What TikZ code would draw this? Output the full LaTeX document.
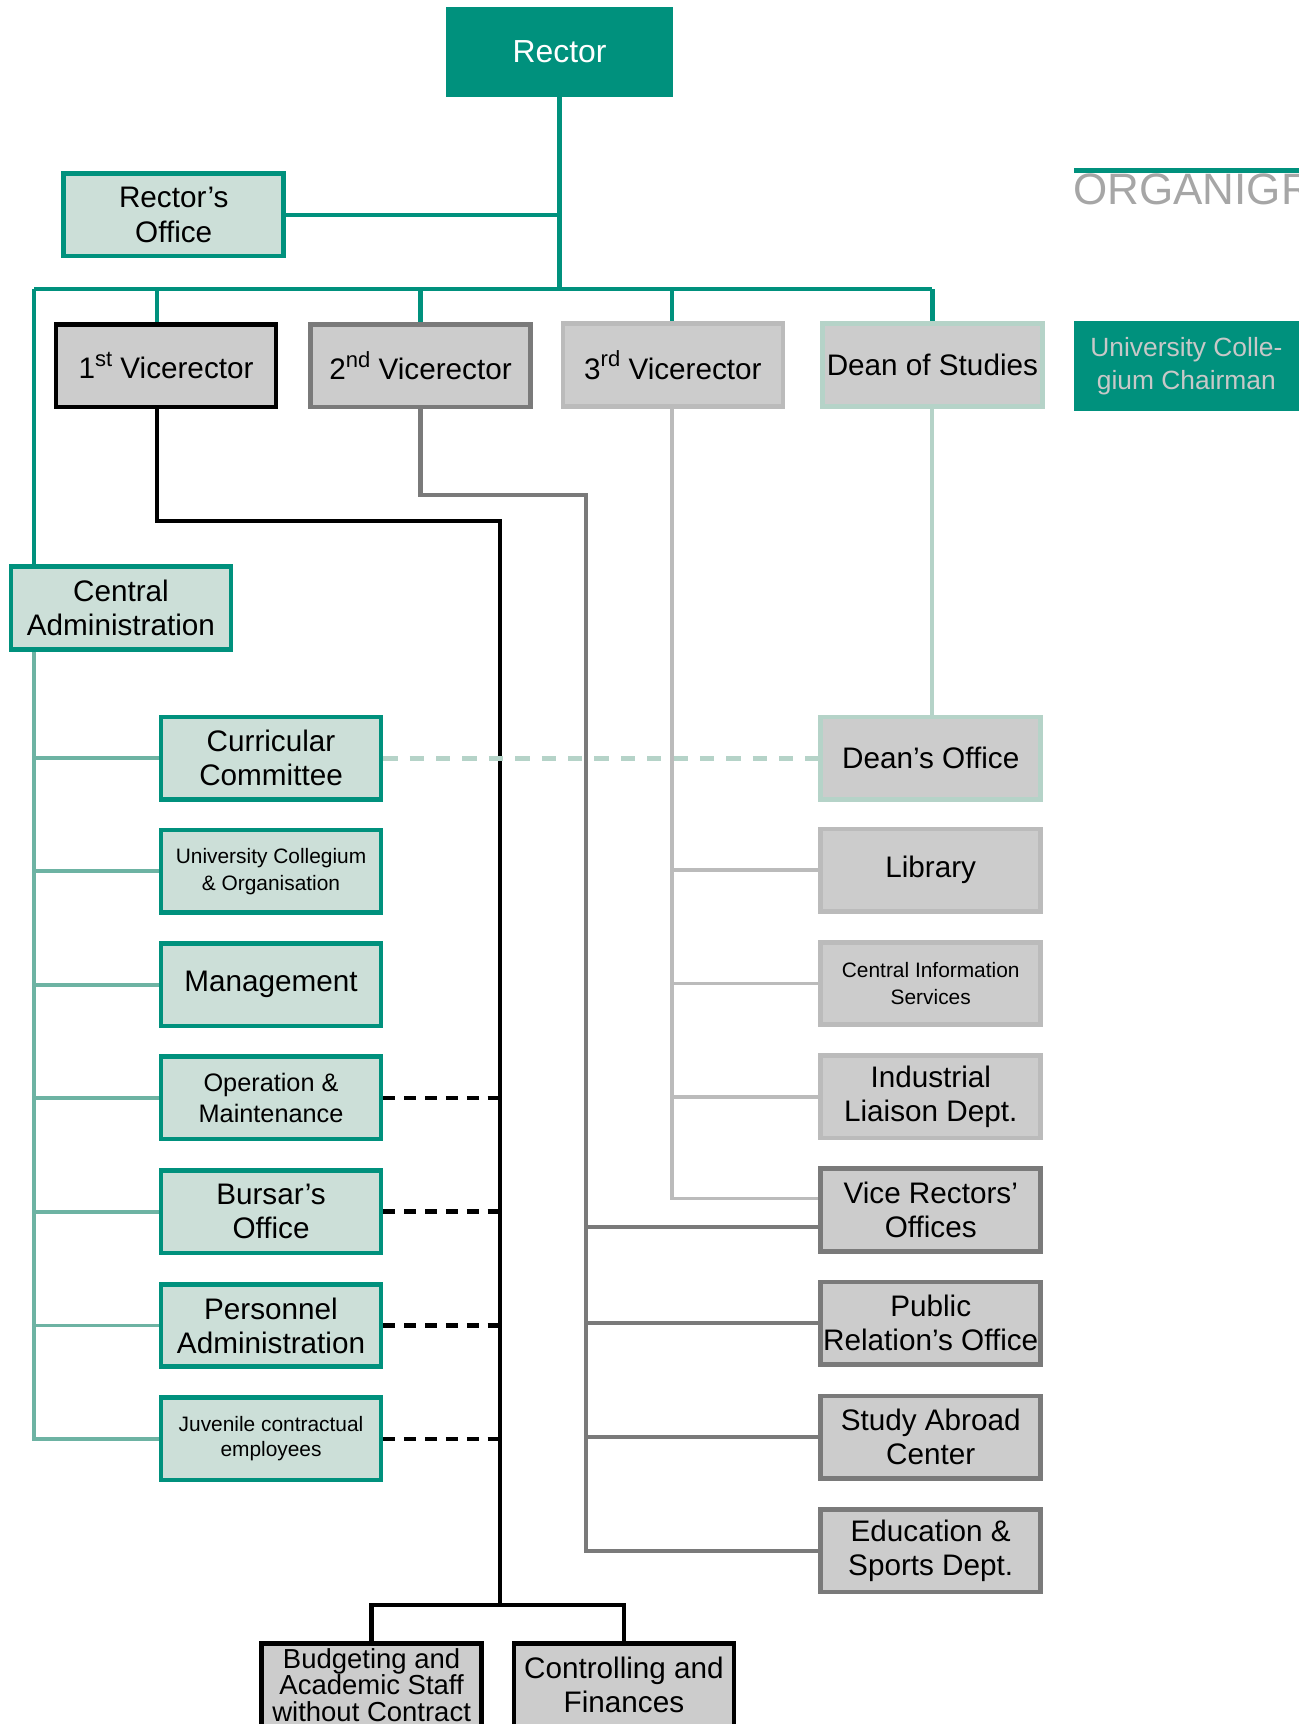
\documentclass[tikz,border=0pt]{standalone}
\usepackage{fontspec}
\setmainfont{Liberation Sans}
\definecolor{teal1}{RGB}{0,145,125}
\definecolor{lteal}{RGB}{204,223,216}
\definecolor{ateal}{RGB}{109,179,163}
\definecolor{dteal}{RGB}{181,211,200}
\definecolor{g204}{RGB}{204,204,204}
\definecolor{g122}{RGB}{122,122,122}
\definecolor{g187}{RGB}{187,187,187}
\definecolor{g166}{RGB}{166,166,166}
\definecolor{g200}{RGB}{200,200,200}
\newcommand{\ordsup}[1]{\raisebox{0.42em}{\fontsize{20}{20}\selectfont #1}}
\begin{document}
\begin{tikzpicture}[x=1pt,y=-1pt,
  box/.style={line width=4.2pt, minimum width=200pt, minimum height=75pt, inner sep=0pt, align=center, font=\fontsize{27}{31}\selectfont},
  tbox/.style={box, draw=teal1, fill=lteal},
  gbox/.style={box, fill=g204},
  smallf/.style={font=\fontsize{19}{25}\selectfont},
  tline/.style={teal1, line width=4pt},
  aline/.style={ateal, line width=3.5pt},
  bline/.style={black, line width=4pt},
  mline/.style={g122, line width=4pt},
  lline/.style={g187, line width=3.5pt},
  dline/.style={dteal, line width=3.5pt},
  bdash/.style={black, line width=4pt, dash pattern=on 11pt off 8pt},
  tdash/.style={dteal, line width=4.5pt, dash pattern=on 13pt off 11pt}
]
\useasboundingbox (0,0) rectangle (1181,1568);

% top
\node[fill=teal1, minimum width=206pt, minimum height=82pt, inner sep=0pt, text=white, font=\fontsize{29}{34}\selectfont] (rector) at (509,47) {Rector};
\node[tbox] (ro) at (158,195.5) {Rector’s\\Office};

\node[gbox, draw=black] (v1) at (151,332.5) {1\ordsup{st} Vicerector};
\node[gbox, draw=g122] (v2) at (382.5,332.5) {2\ordsup{nd} Vicerector};
\node[gbox, draw=g187] (v3) at (612,332) {3\ordsup{rd} Vicerector};
\node[gbox, draw=dteal] (ds) at (848,332) {Dean of Studies};
\node[fill=teal1, minimum width=204pt, minimum height=82pt, inner sep=0pt, text=g200, align=center, font=\fontsize{24}{30}\selectfont] (ucc) at (1079,333) {University Colle-\\gium Chairman};

\node[anchor=base west, inner sep=0pt, text=g166, font=\fontsize{40}{40}\selectfont] (org) at (976,186) {ORGANIGR};
\draw[teal1, line width=4.5pt] (977,155) -- (1190,155);

% left column
\node[tbox] (ca) at (110,553) {Central\\Administration};
\node[tbox] (cc) at (246.5,689.5) {Curricular\\Committee};
\node[tbox, smallf] (uco) at (246.5,792.5) {University Collegium\\\& Organisation};
\node[tbox] (man) at (246.5,895.5) {Management};
\node[tbox, font=\fontsize{23}{28}\selectfont] (om) at (246.5,998.5) {Operation \&\\Maintenance};
\node[tbox] (bo) at (246.5,1102) {Bursar’s\\Office};
\node[tbox] (pa) at (246.5,1205.5) {Personnel\\Administration};
\node[tbox, font=\fontsize{19}{23}\selectfont] (juv) at (246.5,1308.5) {Juvenile contractual\\employees};

% right column
\node[gbox, draw=dteal] (do) at (846.5,689.5) {Dean’s Office};
\node[gbox, draw=g187] (lib) at (846.5,791.5) {Library};
\node[gbox, draw=g187, font=\fontsize{19}{24}\selectfont] (cis) at (846.5,894.5) {Central Information\\Services};
\node[gbox, draw=g187] (ild) at (846.5,997.5) {Industrial\\Liaison Dept.};
\node[gbox, draw=g122] (vro) at (846.5,1100.5) {Vice Rectors’\\Offices};
\node[gbox, draw=g122] (pro) at (846.5,1203.5) {Public\\Relation’s Office};
\node[gbox, draw=g122] (sac) at (846.5,1307) {Study Abroad\\Center};
\node[gbox, draw=g122] (esd) at (846.5,1410.5) {Education \&\\Sports Dept.};

% bottom
\node[gbox, draw=black, font=\fontsize{25}{24}\selectfont] (bud) at (338,1532.5) {Budgeting and\\Academic Staff\\without Contract};
\node[gbox, draw=black] (con) at (567.5,1532.5) {Controlling and\\Finances};

% coordinates
\coordinate (bL) at (31,263);
\coordinate (bR) at (848,263);
\coordinate (k1) at (143,474);
\coordinate (k2) at (455,474);
\coordinate (k3) at (455,1460);
\coordinate (m1) at (382,450);
\coordinate (m2) at (533,450);
\coordinate (vroa) at ([yshift=10.5pt]vro.west);
\coordinate (vrob) at ([yshift=-15.5pt]vro.west);
\coordinate (l1) at (611,0);

% teal tree
\draw[tline] (rector.south) -- (rector.south |- bL);
\draw[tline] (ro.east) -- (ro.east -| rector.south);
\draw[tline] (bL) -- (bR);
\draw[tline] (k1 |- bL) -- (k1 |- v1.north);
\draw[tline] (v2.north |- bL) -- (v2.north);
\draw[tline] (l1 |- bL) -- (l1 |- v3.north);
\draw[tline] (bR) -- (bR |- ds.north);
\draw[tline] (bL) -- (bL |- ca.north);

% central administration spine
\draw[aline] (bL |- ca.south) -- (bL |- juv.west) -- (juv.west);
\foreach \n in {cc,uco,man,om,bo,pa}
  \draw[aline] (bL |- \n.west) -- (\n.west);

% 1st vicerector
\draw[bline] (k1 |- v1.south) -- (k1) -- (k2) -- (k3);
\draw[bline] (bud.north) -- (bud.north |- k3) -- (con.north |- k3) -- (con.north);
\foreach \n in {om,bo,pa,juv}
  \draw[bdash] (\n.east) -- (\n.east -| k2);

% 2nd vicerector
\draw[mline] (v2.south) -- (v2.south |- m1) -- (m2) -- (m2 |- esd.west) -- (esd.west);
\draw[mline] (m2 |- vrob) -- (vrob);
\draw[mline] (m2 |- pro.west) -- (pro.west);
\draw[mline] (m2 |- sac.west) -- (sac.west);

% 3rd vicerector
\draw[lline] (l1 |- v3.south) -- (l1 |- vroa) -- (vroa);
\foreach \n in {lib,cis,ild}
  \draw[lline] (l1 |- \n.west) -- (\n.west);

% dean
\draw[dline] (ds.south) -- (ds.south |- do.north);
\draw[tdash] (cc.east) -- (do.west);
\end{tikzpicture}
\end{document}
